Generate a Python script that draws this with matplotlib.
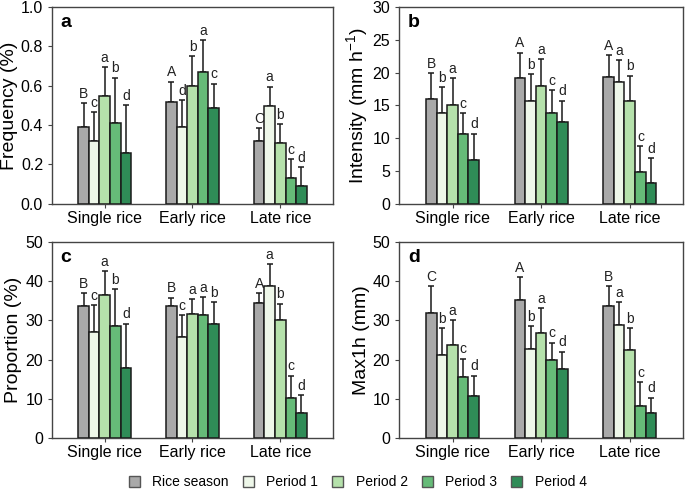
import matplotlib
matplotlib.use("Agg")
import matplotlib.pyplot as plt
import numpy as np
from matplotlib.patches import Patch

plt.rcParams["font.family"] = ["Liberation Sans", "DejaVu Sans"]
plt.rcParams["mathtext.fontset"] = "custom"
plt.rcParams["mathtext.rm"] = "Liberation Sans"
plt.rcParams["mathtext.it"] = "Liberation Sans"
plt.rcParams["mathtext.default"] = "regular"

groups = ["Single rice", "Early rice", "Late rice"]
series = ["Rice season", "Period 1", "Period 2", "Period 3", "Period 4"]
colors = ["#a9a9a9", "#eef7e9", "#b5e1ab", "#66bb78", "#2f8c57"]

# rows = groups, cols = series
freq_mean = [[0.39, 0.32, 0.545, 0.41, 0.26],
             [0.515, 0.39, 0.60, 0.67, 0.485],
             [0.32, 0.495, 0.31, 0.13, 0.09]]
freq_err = [[0.12, 0.145, 0.15, 0.23, 0.24],
            [0.105, 0.135, 0.15, 0.16, 0.125],
            [0.065, 0.10, 0.095, 0.095, 0.095]]
freq_lbl = [["B", "c", "a", "b", "d"], ["A", "d", "b", "a", "c"], ["C", "a", "b", "c", "d"]]

int_mean = [[16.0, 13.8, 15.1, 10.6, 6.6],
            [19.1, 15.7, 17.9, 13.9, 12.4],
            [19.3, 18.6, 15.6, 4.8, 3.1]]
int_err = [[3.9, 4.0, 4.0, 3.2, 4.1],
           [3.9, 4.0, 4.1, 3.4, 3.3],
           [3.3, 3.3, 3.9, 4.0, 3.8]]
int_lbl = [["B", "b", "a", "c", "d"], ["A", "b", "a", "c", "d"], ["A", "a", "b", "c", "d"]]

prop_mean = [[33.7, 27.1, 36.6, 28.5, 17.9],
             [33.6, 25.8, 31.7, 31.3, 29.0],
             [34.5, 38.7, 30.2, 10.1, 6.4]]
prop_err = [[3.2, 6.8, 5.9, 9.5, 11.3],
            [2.2, 5.5, 3.8, 4.7, 5.7],
            [2.4, 5.7, 4.1, 5.8, 4.6]]
prop_lbl = [["B", "c", "a", "b", "d"], ["B", "c", "a", "a", "b"], ["A", "a", "b", "c", "d"]]

max_mean = [[31.8, 21.3, 23.7, 15.6, 10.8],
            [35.3, 22.8, 26.9, 19.8, 17.7],
            [33.6, 28.8, 22.4, 8.2, 6.4]]
max_err = [[6.9, 6.8, 6.4, 4.6, 5.1],
           [5.8, 5.8, 6.3, 4.5, 4.3],
           [5.1, 5.8, 5.6, 6.1, 3.9]]
max_lbl = [["C", "b", "a", "c", "d"], ["A", "b", "a", "c", "d"], ["B", "a", "b", "c", "d"]]

panels = [
    ("a", "Frequency (%)", freq_mean, freq_err, freq_lbl, 1.0, np.arange(0, 1.01, 0.2), "%.1f"),
    ("b", "Intensity (mm h$^{-1}$)", int_mean, int_err, int_lbl, 30, np.arange(0, 31, 5), "%d"),
    ("c", "Proportion (%)", prop_mean, prop_err, prop_lbl, 50, np.arange(0, 51, 10), "%d"),
    ("d", "Max1h (mm)", max_mean, max_err, max_lbl, 50, np.arange(0, 51, 10), "%d"),
]

fig = plt.figure(figsize=(6.85, 4.91), dpi=100)
rects = [[0.076, 0.585, 0.410, 0.401], [0.583, 0.585, 0.414, 0.401],
         [0.076, 0.108, 0.410, 0.399], [0.583, 0.108, 0.414, 0.399]]

x = np.arange(len(groups))
w = 0.12
for rect, (tag, ylabel, mean, err, lbl, ymax, yticks, fmt) in zip(rects, panels):
    ax = fig.add_axes(rect)
    mean = np.array(mean)
    err = np.array(err)
    for j in range(len(series)):
        xs = x + (j - 2) * w
        ax.bar(xs, mean[:, j], w, color=colors[j], edgecolor="#1a1a1a", linewidth=1.1, zorder=3)
        ax.errorbar(xs, mean[:, j], yerr=[np.zeros(3), err[:, j]], fmt="none",
                    ecolor="#1a1a1a", elinewidth=1.1, capsize=2, capthick=1.1, zorder=2)
        for i in range(3):
            ax.text(xs[i], mean[i, j] + err[i, j] + ymax * 0.012, lbl[i][j],
                    ha="center", va="bottom", fontsize=10, color="#222")
    ax.set_xlim(-0.6, 2.6)
    ax.set_ylim(0, ymax)
    ax.set_yticks(yticks)
    ax.set_yticklabels([fmt % v for v in yticks])
    ax.set_xticks(x)
    ax.set_xticklabels(groups)
    ax.tick_params(axis="both", labelsize=11.5, direction="out", color="#444", length=3)
    ax.tick_params(axis="x", pad=2)
    for s in ax.spines.values():
        s.set_color("#444")
        s.set_linewidth(1.0)
    ax.set_ylabel(ylabel, fontsize=14, labelpad=2)
    ax.text(0.03, 0.965, tag, transform=ax.transAxes, fontsize=14, fontweight="bold",
            ha="left", va="top")

handles = [Patch(facecolor=c, edgecolor="#555", linewidth=1.0) for c in colors]
fig.legend(handles, series, loc="center", bbox_to_anchor=(0.522, 0.018), ncol=5,
           frameon=False, fontsize=10, handlelength=0.8, handleheight=0.8,
           columnspacing=1.0, handletextpad=0.9, borderaxespad=0, borderpad=0)

fig.savefig("out.png", dpi=100)
